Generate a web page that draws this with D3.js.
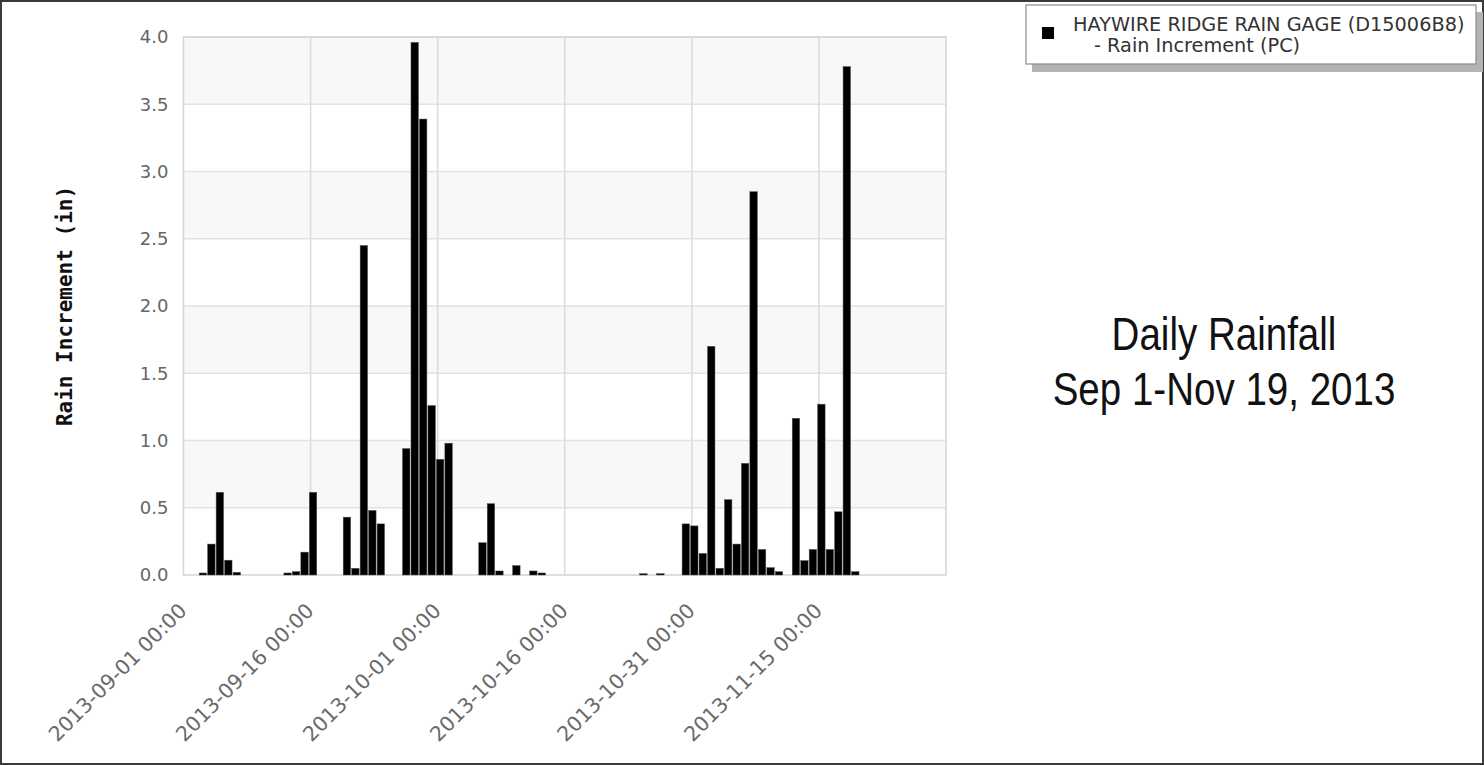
<!DOCTYPE html>
<html>
<head>
<meta charset="utf-8">
<script src="https://cdn.jsdelivr.net/npm/d3@7"></script>
<style>
  html, body { margin: 0; padding: 0; background: #fff; }
  svg { display: block; }
</style>
</head>
<body>
<svg id="chart" width="1484" height="765"></svg>
<script>
// ---------------- data ----------------
const dates = [
  "2013-09-03","2013-09-04","2013-09-05","2013-09-06","2013-09-07",
  "2013-09-13","2013-09-14","2013-09-15","2013-09-16",
  "2013-09-20","2013-09-21","2013-09-22","2013-09-23","2013-09-24",
  "2013-09-27","2013-09-28","2013-09-29","2013-09-30","2013-10-01","2013-10-02",
  "2013-10-06","2013-10-07","2013-10-08","2013-10-10","2013-10-12","2013-10-13",
  "2013-10-25","2013-10-27",
  "2013-10-30","2013-10-31","2013-11-01","2013-11-02","2013-11-03","2013-11-04",
  "2013-11-05","2013-11-06","2013-11-07","2013-11-08","2013-11-09","2013-11-10",
  "2013-11-12","2013-11-13","2013-11-14","2013-11-15","2013-11-16","2013-11-17",
  "2013-11-18","2013-11-19"
];
const rainIncrement = [
  0.015, 0.23, 0.615, 0.11, 0.02,
  0.015, 0.025, 0.17, 0.615,
  0.43, 0.05, 2.45, 0.48, 0.38,
  0.94, 3.96, 3.39, 1.26, 0.86, 0.98,
  0.24, 0.53, 0.03, 0.07, 0.03, 0.015,
  0.01, 0.01,
  0.38, 0.365, 0.16, 1.70, 0.05, 0.56,
  0.23, 0.83, 2.85, 0.19, 0.055, 0.025,
  1.165, 0.107, 0.19, 1.27, 0.19, 0.47,
  3.78, 0.025
];
const xDomain = ["2013-09-01", "2013-11-30"];
const xTickDates = ["2013-09-01","2013-09-16","2013-10-01","2013-10-16","2013-10-31","2013-11-15"];
const yTicks = [0.0, 0.5, 1.0, 1.5, 2.0, 2.5, 3.0, 3.5, 4.0];
const yTitle = "Rain Increment (in)";
const legendLines = ["HAYWIRE RIDGE RAIN GAGE (D15006B8)", "- Rain Increment (PC)"];
const titleLines = ["Daily Rainfall", "Sep 1-Nov 19, 2013"];

// ---------------- layout ----------------
const W = 1484, H = 765;
const plot = { left: 183.5, right: 946, top: 37, bottom: 575 };

const parse = d3.utcParse("%Y-%m-%d");
const fmt = d3.utcFormat("%Y-%m-%d %H:%M");

const x = d3.scaleUtc().domain(xDomain.map(parse)).range([plot.left, plot.right]);
const y = d3.scaleLinear().domain([0, 4]).range([plot.bottom, plot.top]);
const dayPx = x(parse("2013-09-02")) - x(parse("2013-09-01"));

const svg = d3.select("#chart");

// background + outer frame
svg.append("rect").attr("x", 0).attr("y", 0).attr("width", W).attr("height", H).attr("fill", "#fff");
svg.append("rect").attr("x", 1).attr("y", 1).attr("width", W - 2).attr("height", H - 2)
  .attr("fill", "none").attr("stroke", "#3a3a3a").attr("stroke-width", 2);

// alternating bands
const bands = [[0.5, 1.0], [1.5, 2.0], [2.5, 3.0], [3.5, 4.0]];
svg.append("g").selectAll("rect").data(bands).join("rect")
  .attr("x", plot.left).attr("width", plot.right - plot.left)
  .attr("y", d => y(d[1])).attr("height", d => y(d[0]) - y(d[1]))
  .attr("fill", "#f8f8f8");

// horizontal grid
svg.append("g").selectAll("line").data(yTicks.filter(v => v > 0)).join("line")
  .attr("x1", plot.left).attr("x2", plot.right)
  .attr("y1", d => y(d)).attr("y2", d => y(d))
  .attr("stroke", "#e2e2e2").attr("stroke-width", 1.6);

// vertical grid
svg.append("g").selectAll("line").data(xTickDates.slice(1).map(parse)).join("line")
  .attr("x1", d => x(d)).attr("x2", d => x(d))
  .attr("y1", plot.top).attr("y2", plot.bottom)
  .attr("stroke", "#dcdcdc").attr("stroke-width", 1.6);

// plot border
svg.append("rect").attr("x", plot.left).attr("y", plot.top)
  .attr("width", plot.right - plot.left).attr("height", plot.bottom - plot.top)
  .attr("fill", "none").attr("stroke", "#d4d4d4").attr("stroke-width", 1.5);

// bars
const data = dates.map((d, i) => ({ date: parse(d), value: rainIncrement[i] }));
svg.append("g").selectAll("rect").data(data).join("rect")
  .attr("x", d => x(d.date) - 0.15 * dayPx)
  .attr("width", 0.88 * dayPx)
  .attr("y", d => y(d.value))
  .attr("height", d => y(0) - y(d.value))
  .attr("fill", "#000")
  .attr("stroke", "#555").attr("stroke-width", 0.5);

// y axis
const yAxis = d3.axisLeft(y).tickValues(yTicks).tickFormat(d3.format(".1f")).tickSize(0).tickPadding(15);
const gy = svg.append("g").attr("transform", `translate(${plot.left},0)`).call(yAxis);
gy.select(".domain").remove();
gy.selectAll("text").attr("font-family", "DejaVu Sans, sans-serif").attr("font-size", 18).attr("fill", "#666");

// x axis
const xAxis = d3.axisBottom(x).tickValues(xTickDates.map(parse)).tickFormat(fmt).tickSize(0);
const gx = svg.append("g").attr("transform", `translate(0,${plot.bottom})`).call(xAxis);
gx.select(".domain").remove();
gx.selectAll("text")
  .attr("font-family", "DejaVu Sans, sans-serif").attr("font-size", 20.5).attr("fill", "#6a6a6a")
  .attr("text-anchor", "end")
  .attr("x", 0).attr("y", 0).attr("dy", 0)
  .attr("transform", "translate(4,37) rotate(-45)");

// y title
svg.append("text")
  .attr("transform", `translate(72,306) rotate(-90)`)
  .attr("text-anchor", "middle")
  .attr("font-family", "DejaVu Sans Mono, monospace").attr("font-weight", "bold")
  .attr("font-size", 21).attr("fill", "#111")
  .text(yTitle);

// legend
const lg = svg.append("g");
lg.append("rect").attr("x", 1032).attr("y", 12).attr("width", 451).attr("height", 60).attr("fill", "#b4b4b4");
lg.append("rect").attr("x", 1026).attr("y", 5).attr("width", 450).attr("height", 59)
  .attr("fill", "#fff").attr("stroke", "#8a8a8a").attr("stroke-width", 1.2);
lg.append("rect").attr("x", 1042).attr("y", 27).attr("width", 12).attr("height", 12).attr("fill", "#000");
lg.append("text").attr("x", 1073).attr("y", 31)
  .attr("font-family", "DejaVu Sans, sans-serif").attr("font-size", 19.3).attr("fill", "#333")
  .text(legendLines[0]);
lg.append("text").attr("x", 1094).attr("y", 52)
  .attr("font-family", "DejaVu Sans, sans-serif").attr("font-size", 19.3).attr("fill", "#333")
  .text(legendLines[1]);

// annotation title (Arial-Narrow look: Liberation Sans compressed horizontally)
const tg = svg.append("g").attr("transform", "translate(1224,0) scale(0.82,1)");
tg.selectAll("text").data(titleLines).join("text")
  .attr("x", 0).attr("y", (d, i) => 350 + i * 55)
  .attr("text-anchor", "middle")
  .attr("font-family", "'Liberation Sans', Arial, sans-serif")
  .attr("font-size", 47).attr("fill", "#111")
  .text(d => d);
</script>
</body>
</html>
